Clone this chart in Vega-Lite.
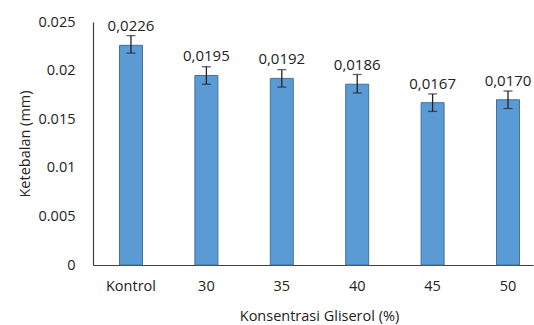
{
  "$schema": "https://vega.github.io/schema/vega-lite/v6.json",
  "autosize": {"type": "none"},
  "padding": {"left": 93, "top": 22, "right": 1, "bottom": 60},
  "width": 440,
  "height": 243,
  "background": "white",
  "config": {
    "view": {"stroke": null},
    "font": "Open Sans",
    "axis": {"labelFont": "Open Sans", "titleFont": "Open Sans", "labelColor": "#222", "titleColor": "#222", "titleFontWeight": "normal", "labelFontSize": 14.5, "titleFontSize": 14.5}
  },
  "data": {
    "values": [
      {"k": "Kontrol", "value": 0.0226, "lo": 0.0218, "hi": 0.0236, "label": "0,0226"},
      {"k": "30", "value": 0.0195, "lo": 0.0186, "hi": 0.0204, "label": "0,0195"},
      {"k": "35", "value": 0.0192, "lo": 0.0183, "hi": 0.0201, "label": "0,0192"},
      {"k": "40", "value": 0.0186, "lo": 0.0177, "hi": 0.0196, "label": "0,0186"},
      {"k": "45", "value": 0.0167, "lo": 0.0158, "hi": 0.0176, "label": "0,0167"},
      {"k": "50", "value": 0.0170, "lo": 0.0161, "hi": 0.0179, "label": "0,0170"}
    ]
  },
  "encoding": {
    "x": {
      "field": "k", "type": "nominal", "sort": null,
      "scale": {"paddingInner": 0.695, "paddingOuter": 0.265, "align": 0.6625},
      "axis": {"title": "Konsentrasi Gliserol (%)", "labelAngle": 0, "ticks": false, "tickSize": 0, "labelPadding": 14, "titlePadding": 17, "titleX": 226, "domainColor": "#404040", "domainWidth": 1.2}
    }
  },
  "layer": [
    {
      "mark": {"type": "bar", "color": "#5B9BD5", "stroke": "#41719C", "strokeWidth": 1},
      "encoding": {
        "y": {
          "field": "value", "type": "quantitative", "title": "Ketebalan (mm)",
          "scale": {"domain": [0, 0.025], "nice": false},
          "axis": {"title": "Ketebalan (mm)", "values": [0, 0.005, 0.01, 0.015, 0.02, 0.025], "format": "~g", "grid": false, "ticks": false, "tickSize": 0, "labelPadding": 18, "titlePadding": 6, "domainColor": "#404040", "domainWidth": 1.2}
        }
      }
    },
    {
      "mark": {"type": "errorbar", "color": "#222", "thickness": 1.3, "ticks": {"size": 9, "thickness": 1.3}},
      "encoding": {
        "y": {"field": "lo", "type": "quantitative", "title": "Ketebalan (mm)"},
        "y2": {"field": "hi"}
      }
    },
    {
      "mark": {"type": "text", "baseline": "alphabetic", "dy": -14, "fontSize": 15, "color": "#222", "font": "Open Sans"},
      "encoding": {
        "y": {"field": "value", "type": "quantitative", "title": "Ketebalan (mm)"},
        "text": {"field": "label"}
      }
    }
  ]
}
